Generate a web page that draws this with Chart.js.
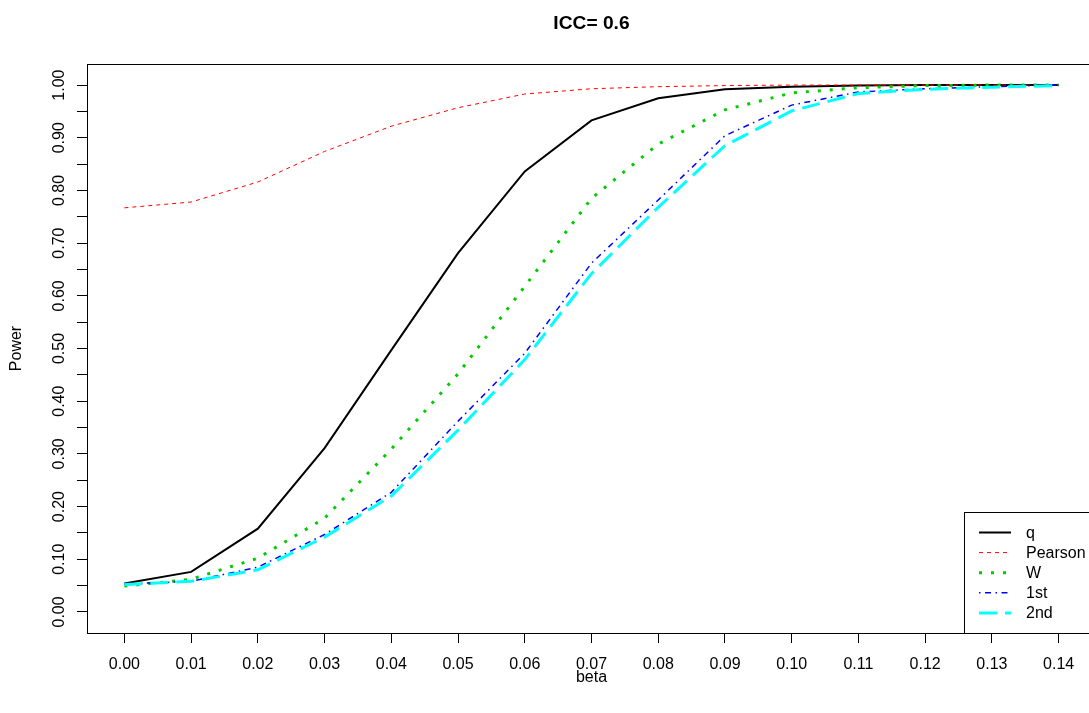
<!DOCTYPE html>
<html>
<head>
<meta charset="utf-8">
<title>ICC= 0.6</title>
<script src="https://cdn.jsdelivr.net/npm/chart.js@4/dist/chart.umd.min.js"></script>
<style>
  html, body { margin: 0; padding: 0; background: #fff; overflow: hidden; }
  canvas { display: block; }
</style>
</head>
<body>
<canvas id="grafico" width="1096" height="713"></canvas>
<script>
// Valores
const beta = [0.00, 0.01, 0.02, 0.03, 0.04, 0.05, 0.06, 0.07, 0.08, 0.09, 0.10, 0.11, 0.12, 0.13, 0.14];
const poderQ       = [0.054, 0.076, 0.158, 0.311, 0.497, 0.681, 0.836, 0.933, 0.975, 0.992, 0.997, 0.999, 1.000, 1.000, 1.000];
const poderPearson = [0.767, 0.778, 0.816, 0.874, 0.922, 0.957, 0.983, 0.993, 0.997, 0.999, 1.000, 1.000, 1.000, 1.000, 1.000];
const poderW       = [0.049, 0.062, 0.102, 0.178, 0.309, 0.452, 0.618, 0.785, 0.888, 0.953, 0.985, 0.995, 0.999, 1.000, 1.000];
const poder1st     = [0.053, 0.058, 0.085, 0.147, 0.227, 0.362, 0.491, 0.662, 0.782, 0.904, 0.962, 0.987, 0.993, 0.997, 1.000];
const poder2nd     = [0.052, 0.058, 0.080, 0.142, 0.220, 0.345, 0.479, 0.642, 0.768, 0.885, 0.951, 0.984, 0.992, 0.996, 0.999];
const rotulos = ["q", "Pearson", "W", "1st", "2nd"];

const fonte = "'Liberation Sans', Arial, Helvetica, sans-serif";
Chart.defaults.font.family = fonte;
Chart.defaults.color = "#000";

const pares = (ys) => beta.map((b, i) => ({ x: b, y: ys[i] }));

// Título centralizado sobre a área do gráfico (como no R)
const tituloPlugin = {
  id: "tituloR",
  afterDraw(chart) {
    const { ctx, chartArea } = chart;
    ctx.save();
    ctx.fillStyle = "#000";
    ctx.font = "bold 19.2px " + fonte;
    ctx.textAlign = "center";
    ctx.textBaseline = "middle";
    ctx.fillText("ICC= 0.6", (chartArea.left + chartArea.right) / 2, 24);
    ctx.restore();
  }
};

// Caixa em volta do gráfico + legenda no canto inferior direito
const caixaPlugin = {
  id: "caixaR",
  afterDraw(chart) {
    const { ctx, chartArea } = chart;
    const l = Math.round(chartArea.left) + 0.5;
    const t = Math.round(chartArea.top) + 0.5;
    const r = Math.round(chartArea.right) - 0.5;
    const b = Math.round(chartArea.bottom) + 0.5;
    ctx.save();
    ctx.strokeStyle = "#000";
    ctx.lineWidth = 1;
    ctx.strokeRect(l, t, r - l, b - t);

    // legenda
    const legX = 964.5;
    const legTopo = 512.5;
    ctx.fillStyle = "#fff";
    ctx.fillRect(legX, legTopo, r - legX, b - legTopo);
    ctx.strokeRect(legX, legTopo, r - legX, b - legTopo);
    ctx.font = "16px " + fonte;
    ctx.textAlign = "left";
    ctx.textBaseline = "middle";
    chart.data.datasets.forEach((ds, i) => {
      const y = legTopo + 20 + i * 20.1;
      ctx.beginPath();
      ctx.setLineDash(ds.borderDash || []);
      ctx.lineWidth = ds.borderWidth;
      ctx.strokeStyle = ds.borderColor;
      ctx.moveTo(979, y);
      ctx.lineTo(1011, y);
      ctx.stroke();
      ctx.setLineDash([]);
      ctx.fillStyle = "#000";
      ctx.fillText(ds.label, 1026, y + 1);
    });
    ctx.restore();
  }
};

const ctx = document.getElementById("grafico").getContext("2d");
new Chart(ctx, {
  type: "line",
  data: {
    datasets: [
      { label: rotulos[0], data: pares(poderQ), borderColor: "#000000", borderWidth: 2, borderDash: [], order: 5 },
      { label: rotulos[1], data: pares(poderPearson), borderColor: "#ff0000", borderWidth: 1, borderDash: [4, 4], order: 4 },
      { label: rotulos[2], data: pares(poderW), borderColor: "#00cd00", borderWidth: 3, borderDash: [3, 9], order: 3 },
      { label: rotulos[3], data: pares(poder1st), borderColor: "#0000ff", borderWidth: 1.5, borderDash: [1.5, 4.5, 6, 4.5], order: 2 },
      { label: rotulos[4], data: pares(poder2nd), borderColor: "#00ffff", borderWidth: 3, borderDash: [18, 8], order: 1 }
    ]
  },
  options: {
    responsive: false,
    animation: false,
    layout: { padding: { top: 64, right: 0, bottom: 0, left: 0 } },
    elements: {
      point: { radius: 0 },
      line: { tension: 0, fill: false }
    },
    plugins: {
      legend: { display: false },
      tooltip: { enabled: false },
      title: { display: false }
    },
    scales: {
      x: {
        type: "linear",
        min: -0.0056,
        max: 0.1456,
        afterFit: (scale) => { scale.height = 80; },
        border: { display: true, color: "#000", width: 1 },
        grid: { drawOnChartArea: false, tickLength: 10, color: "#000", tickColor: "#000" },
        ticks: {
          stepSize: 0.01,
          includeBounds: false,
          autoSkip: false,
          maxRotation: 0,
          padding: 12,
          font: { size: 16 },
          color: "#000",
          callback: (v) => v.toFixed(2)
        },
        title: { display: true, text: "beta", font: { size: 16 }, color: "#000", padding: { top: 0, bottom: 26 } }
      },
      y: {
        type: "linear",
        min: -0.04,
        max: 1.04,
        afterFit: (scale) => { scale.width = 87; },
        border: { display: true, color: "#000", width: 1 },
        grid: { drawOnChartArea: false, tickLength: 10, color: "#000", tickColor: "#000" },
        ticks: {
          stepSize: 0.05,
          includeBounds: false,
          autoSkip: false,
          minRotation: 90,
          maxRotation: 90,
          crossAlign: "center",
          padding: 2,
          font: { size: 16 },
          color: "#000",
          callback: (v) => (Math.round(v * 100) % 10 === 0 ? v.toFixed(2) : "")
        },
        title: { display: true, text: "Power", font: { size: 16 }, color: "#000", padding: { top: 7, bottom: 0 } }
      }
    }
  },
  plugins: [tituloPlugin, caixaPlugin]
});
</script>
</body>
</html>
